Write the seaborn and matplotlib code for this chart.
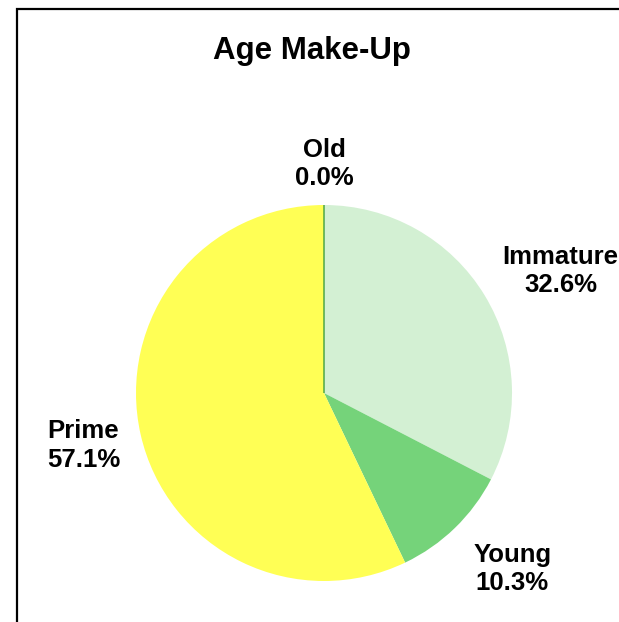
import matplotlib
matplotlib.use("Agg")
import matplotlib.pyplot as plt
from matplotlib.patches import Rectangle
import numpy as np
import seaborn as sns

# data
labels = ["Immature", "Young", "Prime", "Old"]
values = [32.6, 10.3, 57.1, 0.0]
colors = ["#d3f0d3", "#75d37a", "#ffff55", "#3f9f3f"]

sns.set_theme(style="white")
plt.rcParams["font.family"] = ["Liberation Sans", "DejaVu Sans"]

fig = plt.figure(figsize=(6.19, 6.22), dpi=100)
ax = fig.add_axes([0, 0, 1, 1])

wedges, _ = ax.pie(values, colors=colors, startangle=90, counterclock=False,
                   radius=1.0, wedgeprops=dict(linewidth=0))
# zero-size slice shows up as a thin line
wedges[3].set_edgecolor(colors[3])
wedges[3].set_linewidth(1.0)

# label placement (distance, angle) around the pie
label_pos = {"Immature": (1.415, 27.3), "Young": (1.37, -43.0),
             "Prime": (1.31, 192.3), "Old": (1.22, 90.0)}
for w, lab, v in zip(wedges, labels, values):
    d, a = label_pos[lab]
    ang = np.deg2rad(a)
    ax.text(d * np.cos(ang), d * np.sin(ang), f"{lab}\n{v:.1f}%",
            ha="center", va="center", fontsize=18.5, fontweight="bold",
            linespacing=1.22, color="black")

ax.set_aspect("equal")
ax.set_xlim(-324 / 188, (619 - 324) / 188)
ax.set_ylim(-229 / 188, (622 - 229) / 188)
ax.axis("off")

fig.text(311.5 / 619, 1 - 51 / 622, "Age Make-Up", ha="center", va="center",
         fontsize=22.5, fontweight="bold", color="black")

fig.patches.append(Rectangle((16.5 / 619, -0.2), 1.5, 1.2 - 8.5 / 622,
                             transform=fig.transFigure, fill=False,
                             edgecolor="black", linewidth=1.6))

fig.savefig("out.png", dpi=100)
